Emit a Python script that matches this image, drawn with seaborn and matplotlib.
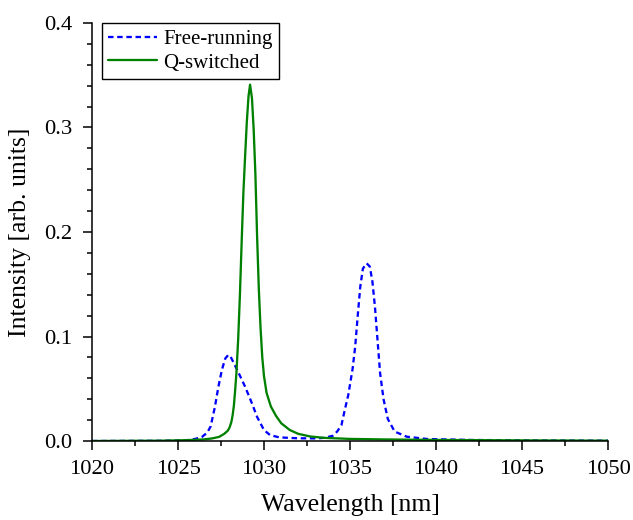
import matplotlib
matplotlib.use("Agg")
import matplotlib.pyplot as plt
from matplotlib.ticker import MultipleLocator
import seaborn as sns
import pandas as pd

# Free-running laser spectrum
free_wl = [1020.0, 1024.0, 1025.0, 1025.7, 1026.0, 1026.4, 1026.7, 1026.9, 1027.15,
           1027.35, 1027.55, 1027.75, 1027.92, 1028.05, 1028.2, 1028.5, 1028.9,
           1029.3, 1029.6, 1030.0, 1030.35, 1030.8, 1031.2, 1032.0, 1033.0, 1033.5,
           1034.0, 1034.25, 1034.5, 1034.7, 1034.9, 1035.0, 1035.15, 1035.3,
           1035.45, 1035.6, 1035.75, 1035.97, 1036.15, 1036.3, 1036.45, 1036.6,
           1036.75, 1036.95, 1037.2, 1037.6, 1038.3, 1039.5, 1042.0, 1046.0, 1050.0]
free_int = [0.0, 0.0002, 0.0005, 0.001, 0.002, 0.004, 0.008, 0.014, 0.033,
            0.052, 0.068, 0.079, 0.0823, 0.081, 0.076, 0.066, 0.052,
            0.036, 0.023, 0.0105, 0.0057, 0.0038, 0.0032, 0.0026, 0.0025, 0.003,
            0.005, 0.009, 0.015, 0.030, 0.044, 0.054, 0.069, 0.090,
            0.120, 0.148, 0.165, 0.170, 0.167, 0.153, 0.1285, 0.0967,
            0.065, 0.040, 0.021, 0.009, 0.0041, 0.0019, 0.001, 0.0005, 0.0003]

# Q-switched laser spectrum
qs_wl = [1020.0, 1024.0, 1025.5, 1026.5, 1027.0, 1027.4, 1027.7, 1027.9, 1028.0,
         1028.1, 1028.18, 1028.25, 1028.32, 1028.4, 1028.5, 1028.6, 1028.7, 1028.8,
         1028.9, 1029.0, 1029.1, 1029.19, 1029.3, 1029.4, 1029.5, 1029.6, 1029.7,
         1029.8, 1029.9, 1030.0, 1030.15, 1030.4, 1030.7, 1031.0, 1031.5, 1032.0,
         1032.7, 1033.5, 1035.0, 1037.0, 1040.0, 1045.0, 1050.0]
qs_int = [0.0, 0.0003, 0.0008, 0.0015, 0.0025, 0.004, 0.007, 0.010, 0.013,
          0.018, 0.025, 0.034, 0.048, 0.066, 0.098, 0.14, 0.19, 0.237,
          0.272, 0.305, 0.330, 0.341, 0.328, 0.298, 0.255, 0.195, 0.145,
          0.108, 0.08, 0.062, 0.046, 0.033, 0.024, 0.017, 0.0105, 0.0068,
          0.0043, 0.003, 0.002, 0.0015, 0.001, 0.0006, 0.0003]

series_labels = ["Free-running", "Q-switched"]
x_label = "Wavelength [nm]"
y_label = "Intensity [arb. units]"

sns.set_theme(style="ticks")
plt.rcParams["font.family"] = ["Liberation Serif", "DejaVu Serif"]
plt.rcParams["text.color"] = "black"
plt.rcParams["axes.labelcolor"] = "black"
plt.rcParams["legend.labelcolor"] = "black"

fig = plt.figure(figsize=(6.33, 5.2), dpi=100)
ax = fig.add_axes([92 / 633, 79 / 520, 516 / 633, 418 / 520])

free_df = pd.DataFrame({"wl": free_wl, "I": free_int})
qs_df = pd.DataFrame({"wl": qs_wl, "I": qs_int})

sns.lineplot(data=free_df, x="wl", y="I", ax=ax, color="#0000FF", linewidth=1.65,
             linestyle=(0, (2.4, 1.6)), label=series_labels[0], errorbar=None)
sns.lineplot(data=qs_df, x="wl", y="I", ax=ax, color="#008000", linewidth=1.65,
             label=series_labels[1], errorbar=None)

ax.set_xlim(1020, 1050)
ax.set_ylim(0, 0.4)
ax.xaxis.set_major_locator(MultipleLocator(5))
ax.xaxis.set_minor_locator(MultipleLocator(2.5))
ax.yaxis.set_major_locator(MultipleLocator(0.1))
ax.yaxis.set_minor_locator(MultipleLocator(0.02))
ax.yaxis.set_major_formatter(plt.FormatStrFormatter("%.1f"))

for side in ["top", "right"]:
    ax.spines[side].set_visible(False)
for side in ["left", "bottom"]:
    ax.spines[side].set_color("black")
    ax.spines[side].set_linewidth(1.1)

ax.tick_params(axis="both", which="major", direction="out", length=6.3, width=1.1,
               color="black", labelsize=16.2, labelcolor="black")
ax.tick_params(axis="x", which="major", pad=7.5)
ax.tick_params(axis="y", which="major", pad=8)
ax.tick_params(axis="both", which="minor", direction="out", length=3.4, width=1.1,
               color="black")

ax.set_xlabel(x_label, fontsize=18.5, color="black", labelpad=11)
ax.set_ylabel(y_label, fontsize=18.5, color="black", labelpad=9)

leg = ax.legend(loc="upper left", bbox_to_anchor=(10 / 516, 1.0), borderaxespad=0,
                fontsize=15, frameon=True, fancybox=False, handlelength=2.35,
                handletextpad=0.3, labelspacing=0.2, borderpad=0.3)
leg.get_frame().set_edgecolor("black")
leg.get_frame().set_linewidth(1.0)
leg.get_frame().set_alpha(1)
for txt in leg.get_texts():
    txt.set_color("black")

fig.savefig("out.png", dpi=100)
